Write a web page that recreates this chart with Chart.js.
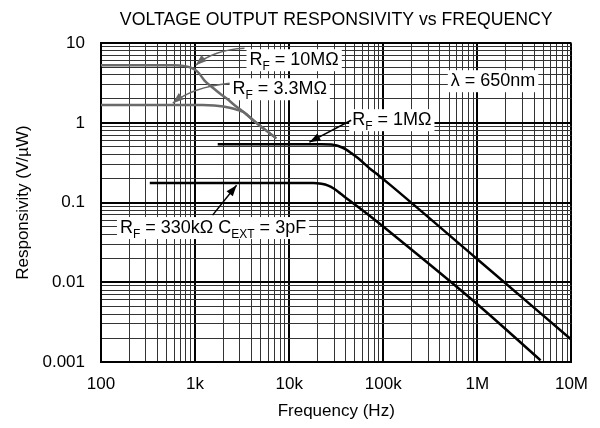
<!DOCTYPE html>
<html>
<head>
<meta charset="utf-8">
<script src="https://cdn.jsdelivr.net/npm/chart.js@4/dist/chart.umd.min.js"></script>
<style>
  body { margin: 0; background: #fff; }
  #wrap { width: 600px; height: 428px; }
</style>
</head>
<body>
<div id="wrap"><canvas id="chart" width="600" height="428"></canvas></div>
<script>
// values: frequency (Hz) and responsivity (V/uW)
const freq10M = [100, 300, 600, 750, 900, 1000, 1100, 1260, 1500, 1820, 2200, 2630, 3300, 4270, 5500, 7300];
const resp10M = [5.3, 5.3, 5.28, 5.2, 4.95, 4.65, 4.2, 3.4, 2.85, 2.36, 2.0, 1.67, 1.36, 1.05, 0.83, 0.64];

const freq3M3 = [100, 600, 1200, 1600, 2000, 2400, 2800, 3300, 4270, 5500, 7300];
const resp3M3 = [1.68, 1.68, 1.68, 1.66, 1.61, 1.54, 1.46, 1.36, 1.05, 0.83, 0.64];

const freq1M = [1740, 10000, 22000, 28000, 32000, 36000, 40000, 46000, 55000, 71000, 90000, 115000, 1000000, 10000000];
const resp1M = [0.54, 0.54, 0.54, 0.535, 0.52, 0.495, 0.465, 0.415, 0.355, 0.271, 0.218, 0.172, 0.0195, 0.0019];

const freq330k = [330, 10000, 18000, 22000, 26000, 30000, 35000, 43400, 55000, 70000, 102000, 1020000, 4700000];
const resp330k = [0.176, 0.176, 0.176, 0.172, 0.163, 0.149, 0.13, 0.107, 0.087, 0.07, 0.049, 0.0052, 0.00105];

const xTicks = [100, 1e3, 1e4, 1e5, 1e6, 1e7];
const xTickLabels = ['100', '1k', '10k', '100k', '1M', '10M'];
const yTicks = [0.001, 0.01, 0.1, 1, 10];
const yTickLabels = ['0.001', '0.01', '0.1', '1', '10'];

const FONT = '"Liberation Sans", Arial, Helvetica, sans-serif';
Chart.defaults.font.family = FONT;
Chart.defaults.color = '#000';

// gridlines at 1..9 of every decade
function gridValues(decades) {
  const out = [];
  for (let i = 0; i < decades.length - 1; i++) {
    for (let m = 1; m < 10; m++) out.push(decades[i] * m);
  }
  out.push(decades[decades.length - 1]);
  return out;
}
function isDecade(v) {
  const l = Math.log10(v);
  return Math.abs(l - Math.round(l)) < 1e-6;
}
function labelFor(v, ticks, labels) {
  for (let i = 0; i < ticks.length; i++) {
    if (Math.abs(Math.log10(v) - Math.log10(ticks[i])) < 1e-6) return labels[i];
  }
  return '';
}
function toPoints(fs, vs) {
  return fs.map((f, i) => ({ x: f, y: vs[i] }));
}

// annotation texts: [text, isSubscript], anchored at left/baseline in data units
const labelNotes = [
  { at: [3785, 5.3], parts: [['R', 0], ['F', 1], [' = 10M\u03A9', 0]] },
  { at: [2500, 2.29], parts: [['R', 0], ['F', 1], [' = 3.3M\u03A9', 0]] },
  { at: [522000, 2.89], parts: [['\u03BB = 650nm', 0]] },
  { at: [46700, 0.937], parts: [['R', 0], ['F', 1], [' = 1M\u03A9', 0]] },
  { at: [159, 0.0415], parts: [['R', 0], ['F', 1], [' = 330k\u03A9 C', 0], ['EXT', 1], [' = 3pF', 0]] }
];
const arrowNotes = [
  { from: [3350, 8.65], via: [1575, 8.28], to: [1015, 5.3], color: '#666' },
  { from: [2330, 3.15], via: [931, 2.81], to: [580, 1.77], color: '#666' },
  { from: [45600, 1.08], to: [16400, 0.574], color: '#000' },
  { from: [1535, 0.0697], to: [2760, 0.1656], color: '#000' }
];

function pos(chart, p) {
  return [chart.scales.x.getPixelForValue(p[0]), chart.scales.y.getPixelForValue(p[1])];
}
function measureParts(ctx, parts) {
  let w = 0;
  parts.forEach(([t, sub]) => {
    ctx.font = (sub ? '12px ' : '18px ') + FONT;
    w += ctx.measureText(t).width;
  });
  return w;
}

const notesPlugin = {
  id: 'notes',
  beforeDatasetsDraw(chart) {
    const ctx = chart.ctx;
    ctx.save();
    ctx.fillStyle = '#fff';
    labelNotes.forEach(n => {
      const [x, y] = pos(chart, n.at);
      const w = measureParts(ctx, n.parts);
      ctx.fillRect(x - 3, y - 16, w + 6, 22);
    });
    ctx.restore();
  },
  afterDatasetsDraw(chart) {
    const ctx = chart.ctx;
    ctx.save();
    ctx.fillStyle = '#000';
    ctx.textBaseline = 'alphabetic';
    ctx.textAlign = 'left';
    labelNotes.forEach(n => {
      let [x, y] = pos(chart, n.at);
      n.parts.forEach(([t, sub]) => {
        ctx.font = (sub ? '12px ' : '18px ') + FONT;
        ctx.fillText(t, x, sub ? y + 5 : y);
        x += ctx.measureText(t).width;
      });
    });
    arrowNotes.forEach(a => {
      const [x0, y0] = pos(chart, a.from);
      const [x1, y1] = pos(chart, a.to);
      ctx.strokeStyle = a.color;
      ctx.fillStyle = a.color;
      ctx.lineWidth = 1.5;
      ctx.beginPath();
      ctx.moveTo(x0, y0);
      let dx, dy;
      if (a.via) {
        const [cx, cy] = pos(chart, a.via);
        ctx.quadraticCurveTo(cx, cy, x1, y1);
        dx = x1 - cx; dy = y1 - cy;
      } else {
        ctx.lineTo(x1, y1);
        dx = x1 - x0; dy = y1 - y0;
      }
      ctx.stroke();
      const len = Math.hypot(dx, dy);
      const ux = dx / len, uy = dy / len;
      ctx.beginPath();
      ctx.moveTo(x1, y1);
      ctx.lineTo(x1 - ux * 11 - uy * 4, y1 - uy * 11 + ux * 4);
      ctx.lineTo(x1 - ux * 11 + uy * 4, y1 - uy * 11 - ux * 4);
      ctx.closePath();
      ctx.fill();
    });
    ctx.restore();
  }
};

function lineSet(fs, vs, color) {
  return {
    data: toPoints(fs, vs),
    borderColor: color,
    borderWidth: 2.5,
    pointRadius: 0,
    fill: false,
    cubicInterpolationMode: 'monotone'
  };
}

const gridStyle = {
  color: (c) => (c.tick && isDecade(c.tick.value)) ? '#000' : '#333',
  lineWidth: (c) => (c.tick && isDecade(c.tick.value)) ? 2 : 1,
  drawTicks: false
};

new Chart(document.getElementById('chart'), {
  type: 'line',
  data: {
    datasets: [
      lineSet(freq10M, resp10M, '#6a6a6a'),
      lineSet(freq3M3, resp3M3, '#6a6a6a'),
      lineSet(freq1M, resp1M, '#000'),
      lineSet(freq330k, resp330k, '#000')
    ]
  },
  options: {
    responsive: false,
    animation: false,
    layout: { padding: { left: 0, right: 27, top: 0, bottom: 0 } },
    plugins: {
      legend: { display: false },
      tooltip: { enabled: false },
      title: {
        display: true,
        text: 'VOLTAGE OUTPUT RESPONSIVITY vs FREQUENCY',
        fullSize: false,
        color: '#000',
        font: { size: 17.7, weight: 'normal' },
        padding: { top: 9, bottom: 13 }
      }
    },
    scales: {
      x: {
        type: 'logarithmic',
        min: 100,
        max: 1e7,
        afterBuildTicks: (s) => { s.ticks = gridValues(xTicks).map(v => ({ value: v })); },
        afterFit: (s) => { s.height = 66; },
        grid: gridStyle,
        border: { color: '#000', width: 2 },
        ticks: {
          autoSkip: false,
          maxRotation: 0,
          padding: 12,
          font: { size: 17 },
          callback: (v) => labelFor(v, xTicks, xTickLabels)
        },
        title: {
          display: true,
          text: 'Frequency (Hz)',
          font: { size: 17 },
          padding: { top: 0, bottom: 6 }
        }
      },
      y: {
        type: 'logarithmic',
        min: 0.001,
        max: 10,
        afterBuildTicks: (s) => { s.ticks = gridValues(yTicks).map(v => ({ value: v })); },
        afterFit: (s) => { s.width = 101; },
        grid: gridStyle,
        border: { color: '#000', width: 2 },
        ticks: {
          autoSkip: false,
          padding: 16,
          font: { size: 17 },
          callback: (v) => labelFor(v, yTicks, yTickLabels)
        },
        title: {
          display: true,
          text: 'Responsivity (V/\u00B5W)',
          font: { size: 17 },
          padding: { top: 13, bottom: 0 }
        }
      }
    }
  },
  plugins: [notesPlugin]
});
</script>
</body>
</html>
